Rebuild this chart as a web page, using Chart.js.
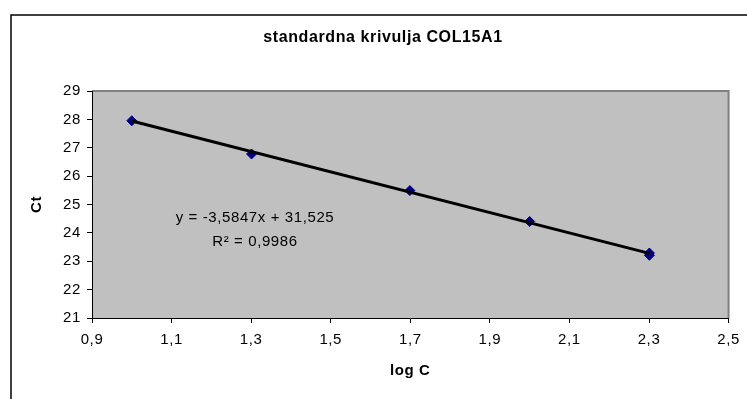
<!DOCTYPE html>
<html>
<head>
<meta charset="utf-8">
<script src="https://cdn.jsdelivr.net/npm/chart.js@4"></script>
<style>
  html, body { margin: 0; padding: 0; background: #fff; }
</style>
</head>
<body>
<canvas id="chart" width="747" height="399"></canvas>
<script>
// Chart data
const titleText = "standardna krivulja COL15A1";
const logC = [1, 1.301, 1.699, 2, 2.301, 2.301];
const ct = [27.95, 26.78, 25.49, 24.40, 23.29, 23.21];
const xTickValues = [0.9, 1.1, 1.3, 1.5, 1.7, 1.9, 2.1, 2.3, 2.5];
const yTickValues = [21, 22, 23, 24, 25, 26, 27, 28, 29];
const trendSlope = -3.5847;
const trendIntercept = 31.525;
const equationText = "y = -3,5847x + 31,525";
const r2Text = "R\u00B2 = 0,9986";

const font = '"Liberation Sans", Arial, sans-serif';

// scatter points and the trend line through the first and last x
const points = logC.map((x, i) => ({ x: x, y: ct[i] }));
const xFirst = Math.min(...logC);
const xLast = Math.max(...logC);
const trendPoints = [
  { x: xFirst, y: trendSlope * xFirst + trendIntercept },
  { x: xLast, y: trendSlope * xLast + trendIntercept }
];

// Background, outer frame, grey plot area and title
const framePlugin = {
  id: "framePlugin",
  beforeDraw(chart) {
    const ctx = chart.ctx;
    const a = chart.chartArea;
    ctx.save();
    ctx.fillStyle = "#fff";
    ctx.fillRect(0, 0, chart.width, chart.height);

    ctx.strokeStyle = "#000";
    ctx.lineWidth = 1.5;
    ctx.beginPath();
    ctx.moveTo(11, chart.height);
    ctx.lineTo(11, 15);
    ctx.lineTo(chart.width, 15);
    ctx.stroke();

    ctx.fillStyle = "#c0c0c0";
    ctx.fillRect(a.left, a.top, a.right - a.left, a.bottom - a.top);
    ctx.strokeStyle = "#808080";
    ctx.lineWidth = 2;
    ctx.beginPath();
    ctx.moveTo(a.left, a.top);
    ctx.lineTo(a.right, a.top);
    ctx.lineTo(a.right, a.bottom);
    ctx.stroke();

    ctx.letterSpacing = "0.6px";
    ctx.font = "bold 16px " + font;
    ctx.fillStyle = "#000";
    ctx.textAlign = "center";
    ctx.textBaseline = "middle";
    ctx.fillText(titleText, 383, 38);
    ctx.restore();

    // slightly wide text like the original
    ctx.letterSpacing = "0.6px";
  },
  afterDraw(chart) {
    const ctx = chart.ctx;
    ctx.save();
    ctx.letterSpacing = "0.6px";
    ctx.font = "15px " + font;
    ctx.fillStyle = "#000";
    ctx.textAlign = "center";
    ctx.textBaseline = "middle";
    ctx.fillText(equationText, 255, 218);
    ctx.fillText(r2Text, 255, 242);
    ctx.restore();
  }
};

new Chart(document.getElementById("chart"), {
  type: "scatter",
  data: {
    datasets: [
      {
        label: "trend",
        data: trendPoints,
        showLine: true,
        borderColor: "#000",
        borderWidth: 3,
        pointRadius: 0
      },
      {
        label: "Ct",
        data: points,
        pointStyle: "rectRot",
        pointRadius: 5,
        backgroundColor: "#000080",
        borderColor: "#000080",
        borderWidth: 1
      }
    ]
  },
  options: {
    responsive: false,
    devicePixelRatio: 1,
    animation: false,
    layout: { padding: { top: 91, right: 18, bottom: 0, left: 0 } },
    plugins: {
      legend: { display: false },
      tooltip: { enabled: false },
      title: { display: false }
    },
    scales: {
      x: {
        type: "linear",
        min: 0.9,
        max: 2.5,
        afterBuildTicks: (axis) => { axis.ticks = xTickValues.map(v => ({ value: v })); },
        afterFit: (axis) => { axis.height = 81; },
        grid: { drawOnChartArea: false, color: "#000", tickLength: 5 },
        border: { color: "#000", width: 1 },
        ticks: {
          color: "#000",
          font: { family: font, size: 15 },
          padding: 8,
          maxRotation: 0,
          callback: (v) => v.toFixed(1).replace(".", ",")
        },
        title: {
          display: true,
          text: "log C",
          color: "#000",
          font: { family: font, size: 15, weight: "bold" },
          padding: { top: 0, bottom: 19 }
        }
      },
      y: {
        type: "linear",
        min: 21,
        max: 29,
        afterBuildTicks: (axis) => { axis.ticks = yTickValues.map(v => ({ value: v })); },
        afterFit: (axis) => { axis.width = 92; },
        grid: { drawOnChartArea: false, color: "#000", tickLength: 5 },
        border: { color: "#000", width: 1 },
        ticks: {
          color: "#000",
          font: { family: font, size: 15 },
          padding: 6,
          callback: (v) => String(v)
        },
        title: {
          display: true,
          text: "Ct",
          color: "#000",
          font: { family: font, size: 15, weight: "bold" },
          padding: { top: 28, bottom: 0 }
        }
      }
    }
  },
  plugins: [framePlugin]
});
</script>
</body>
</html>
